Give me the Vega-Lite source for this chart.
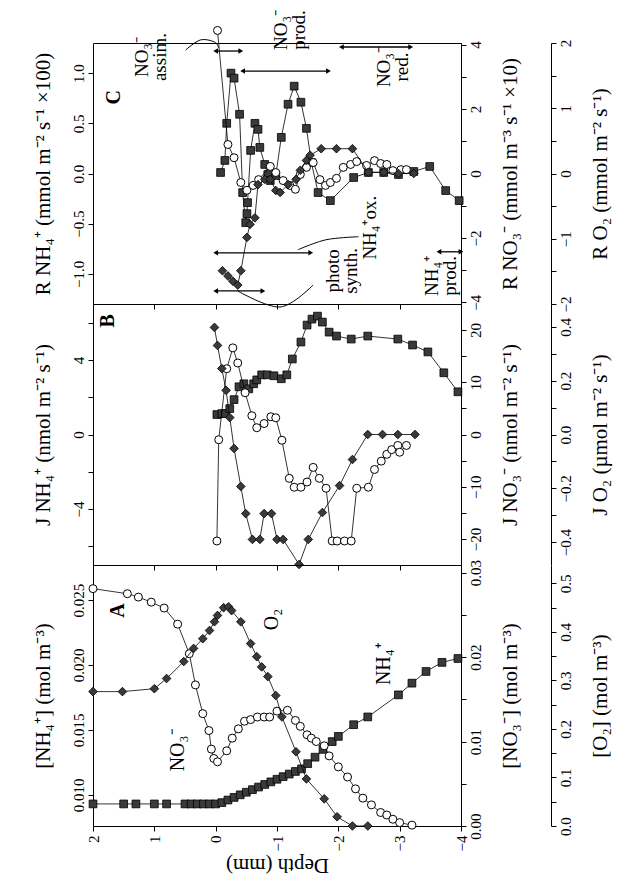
{
"$schema": "https://vega.github.io/schema/vega-lite/v6.json",
"background": "white",
"padding": {"left": 31, "top": 9, "right": 5, "bottom": 5},
"spacing": 0,
"bounds": "flush",
"config": {
  "font": "Liberation Serif",
  "view": {"stroke": "black", "strokeWidth": 1},
  "axis": {"domainColor": "black", "tickColor": "black", "labelColor": "black", "titleColor": "black", "labelFont": "Liberation Serif", "titleFont": "Liberation Serif", "labelFontSize": 15, "titleFontSize": 21, "titleFontWeight": "normal", "grid": false, "tickSize": 5},
  "text": {"font": "Liberation Serif"}
},
"datasets": {
  "A": [
    {"depth":2.0,"s":"sq","v":0.0093},{"depth":1.5,"s":"sq","v":0.0093},{"depth":1.3,"s":"sq","v":0.0093},{"depth":1.0,"s":"sq","v":0.0093},{"depth":0.8,"s":"sq","v":0.0093},{"depth":0.5,"s":"sq","v":0.0093},{"depth":0.4,"s":"sq","v":0.0093},{"depth":0.3,"s":"sq","v":0.0093},{"depth":0.2,"s":"sq","v":0.0093},{"depth":0.1,"s":"sq","v":0.0093},{"depth":0.0,"s":"sq","v":0.0093},
    {"depth":-0.1,"s":"sq","v":0.0094},{"depth":-0.2,"s":"sq","v":0.0096},{"depth":-0.3,"s":"sq","v":0.0098},{"depth":-0.4,"s":"sq","v":0.0100},{"depth":-0.5,"s":"sq","v":0.0102},{"depth":-0.6,"s":"sq","v":0.0104},{"depth":-0.7,"s":"sq","v":0.0106},{"depth":-0.8,"s":"sq","v":0.0108},{"depth":-0.9,"s":"sq","v":0.0110},{"depth":-1.0,"s":"sq","v":0.0112},{"depth":-1.1,"s":"sq","v":0.0114},{"depth":-1.2,"s":"sq","v":0.0116},{"depth":-1.3,"s":"sq","v":0.0118},{"depth":-1.4,"s":"sq","v":0.0120},{"depth":-1.5,"s":"sq","v":0.0124},{"depth":-1.62,"s":"sq","v":0.0129},{"depth":-1.75,"s":"sq","v":0.0135},{"depth":-1.9,"s":"sq","v":0.0141},{"depth":-2.0,"s":"sq","v":0.0145},{"depth":-2.25,"s":"sq","v":0.0154},{"depth":-2.48,"s":"sq","v":0.0160},{"depth":-2.98,"s":"sq","v":0.0177},{"depth":-3.2,"s":"sq","v":0.0186},{"depth":-3.43,"s":"sq","v":0.0195},{"depth":-3.69,"s":"sq","v":0.0202},{"depth":-3.95,"s":"sq","v":0.0205},
    {"depth":2.0,"s":"ci","v":0.0281},{"depth":1.44,"s":"ci","v":0.0275},{"depth":1.26,"s":"ci","v":0.0271},{"depth":1.05,"s":"ci","v":0.0265},{"depth":0.84,"s":"ci","v":0.0258},{"depth":0.62,"s":"ci","v":0.0239},{"depth":0.43,"s":"ci","v":0.0204},{"depth":0.33,"s":"ci","v":0.0167},{"depth":0.21,"s":"ci","v":0.0133},{"depth":0.11,"s":"ci","v":0.0113},{"depth":0.07,"s":"ci","v":0.0091},{"depth":0.03,"s":"ci","v":0.0080},{"depth":-0.03,"s":"ci","v":0.0076},{"depth":-0.18,"s":"ci","v":0.0089},{"depth":-0.27,"s":"ci","v":0.0104},{"depth":-0.37,"s":"ci","v":0.0115},{"depth":-0.47,"s":"ci","v":0.0124},{"depth":-0.57,"s":"ci","v":0.0126},{"depth":-0.68,"s":"ci","v":0.0129},{"depth":-0.79,"s":"ci","v":0.0129},{"depth":-0.88,"s":"ci","v":0.0129},{"depth":-1.0,"s":"ci","v":0.0136},{"depth":-1.17,"s":"ci","v":0.0137},{"depth":-1.3,"s":"ci","v":0.0125},{"depth":-1.38,"s":"ci","v":0.0118},{"depth":-1.49,"s":"ci","v":0.0108},{"depth":-1.56,"s":"ci","v":0.0104},{"depth":-1.64,"s":"ci","v":0.0100},{"depth":-1.77,"s":"ci","v":0.0095},{"depth":-1.85,"s":"ci","v":0.0083},{"depth":-2.0,"s":"ci","v":0.0070},{"depth":-2.15,"s":"ci","v":0.0058},{"depth":-2.28,"s":"ci","v":0.0044},{"depth":-2.4,"s":"ci","v":0.0033},{"depth":-2.54,"s":"ci","v":0.0025},{"depth":-2.69,"s":"ci","v":0.0016},{"depth":-2.79,"s":"ci","v":0.0013},{"depth":-2.89,"s":"ci","v":0.0008},{"depth":-3.0,"s":"ci","v":0.0004},{"depth":-3.2,"s":"ci","v":0.0001},
    {"depth":2.0,"s":"di","v":0.277},{"depth":1.52,"s":"di","v":0.277},{"depth":1.0,"s":"di","v":0.283},{"depth":0.8,"s":"di","v":0.304},{"depth":0.52,"s":"di","v":0.339},{"depth":0.36,"s":"di","v":0.366},{"depth":0.21,"s":"di","v":0.386},{"depth":0.1,"s":"di","v":0.403},{"depth":0.02,"s":"di","v":0.421},{"depth":-0.03,"s":"di","v":0.434},{"depth":-0.13,"s":"di","v":0.45},{"depth":-0.21,"s":"di","v":0.452},{"depth":-0.26,"s":"di","v":0.444},{"depth":-0.41,"s":"di","v":0.421},{"depth":-0.57,"s":"di","v":0.376},{"depth":-0.67,"s":"di","v":0.349},{"depth":-0.75,"s":"di","v":0.328},{"depth":-0.85,"s":"di","v":0.308},{"depth":-0.98,"s":"di","v":0.269},{"depth":-1.08,"s":"di","v":0.225},{"depth":-1.31,"s":"di","v":0.153},{"depth":-1.48,"s":"di","v":0.097},{"depth":-1.77,"s":"di","v":0.056},{"depth":-1.98,"s":"di","v":0.019},{"depth":-2.23,"s":"di","v":0.0},{"depth":-2.48,"s":"di","v":0.0}
  ],
  "B": [
    {"depth":-0.02,"s":"sq","v":1.07},{"depth":-0.1,"s":"sq","v":1.12},{"depth":-0.16,"s":"sq","v":1.12},{"depth":-0.23,"s":"sq","v":1.39},{"depth":-0.3,"s":"sq","v":1.87},{"depth":-0.38,"s":"sq","v":2.56},{"depth":-0.46,"s":"sq","v":2.72},{"depth":-0.54,"s":"sq","v":2.45},{"depth":-0.62,"s":"sq","v":2.72},{"depth":-0.67,"s":"sq","v":2.93},{"depth":-0.75,"s":"sq","v":3.2},{"depth":-0.84,"s":"sq","v":3.2},{"depth":-0.95,"s":"sq","v":3.15},{"depth":-1.07,"s":"sq","v":2.99},{"depth":-1.16,"s":"sq","v":3.2},{"depth":-1.25,"s":"sq","v":4.05},{"depth":-1.39,"s":"sq","v":4.96},{"depth":-1.49,"s":"sq","v":5.87},{"depth":-1.57,"s":"sq","v":6.19},{"depth":-1.66,"s":"sq","v":6.35},{"depth":-1.74,"s":"sq","v":6.03},{"depth":-1.85,"s":"sq","v":5.49},{"depth":-1.97,"s":"sq","v":5.28},{"depth":-2.21,"s":"sq","v":5.12},{"depth":-2.48,"s":"sq","v":5.28},{"depth":-2.97,"s":"sq","v":5.12},{"depth":-3.21,"s":"sq","v":4.8},{"depth":-3.46,"s":"sq","v":4.43},{"depth":-3.72,"s":"sq","v":3.31},{"depth":-3.95,"s":"sq","v":2.29},
    {"depth":-0.02,"s":"ci","v":-20.4},{"depth":-0.05,"s":"ci","v":-1.0},{"depth":-0.18,"s":"ci","v":12.6},{"depth":-0.28,"s":"ci","v":16.6},{"depth":-0.36,"s":"ci","v":13.7},{"depth":-0.48,"s":"ci","v":8.0},{"depth":-0.59,"s":"ci","v":3.6},{"depth":-0.67,"s":"ci","v":1.3},{"depth":-0.79,"s":"ci","v":2.1},{"depth":-0.9,"s":"ci","v":3.4},{"depth":-0.98,"s":"ci","v":3.2},{"depth":-1.08,"s":"ci","v":-1.1},{"depth":-1.2,"s":"ci","v":-8.4},{"depth":-1.28,"s":"ci","v":-10.1},{"depth":-1.39,"s":"ci","v":-10.1},{"depth":-1.49,"s":"ci","v":-9.1},{"depth":-1.59,"s":"ci","v":-6.3},{"depth":-1.69,"s":"ci","v":-8.4},{"depth":-1.8,"s":"ci","v":-10.3},{"depth":-1.9,"s":"ci","v":-20.4},{"depth":-1.98,"s":"ci","v":-20.4},{"depth":-2.1,"s":"ci","v":-20.4},{"depth":-2.21,"s":"ci","v":-20.4},{"depth":-2.3,"s":"ci","v":-10.3},{"depth":-2.49,"s":"ci","v":-10.1},{"depth":-2.59,"s":"ci","v":-6.7},{"depth":-2.7,"s":"ci","v":-5.1},{"depth":-2.79,"s":"ci","v":-3.8},{"depth":-2.87,"s":"ci","v":-2.9},{"depth":-2.97,"s":"ci","v":-2.1},{"depth":-3.0,"s":"ci","v":-3.4},{"depth":-3.11,"s":"ci","v":-2.1},
    {"depth":0.02,"s":"di","v":0.398},{"depth":-0.03,"s":"di","v":0.331},{"depth":-0.1,"s":"di","v":0.245},{"depth":-0.17,"s":"di","v":0.164},{"depth":-0.23,"s":"di","v":0.063},{"depth":-0.3,"s":"di","v":-0.052},{"depth":-0.41,"s":"di","v":-0.193},{"depth":-0.49,"s":"di","v":-0.294},{"depth":-0.6,"s":"di","v":-0.39},{"depth":-0.72,"s":"di","v":-0.39},{"depth":-0.79,"s":"di","v":-0.294},{"depth":-0.91,"s":"di","v":-0.294},{"depth":-1.0,"s":"di","v":-0.39},{"depth":-1.1,"s":"di","v":-0.39},{"depth":-1.36,"s":"di","v":-0.483},{"depth":-1.51,"s":"di","v":-0.39},{"depth":-1.74,"s":"di","v":-0.29},{"depth":-2.02,"s":"di","v":-0.19},{"depth":-2.23,"s":"di","v":-0.093},{"depth":-2.48,"s":"di","v":0.0},{"depth":-2.72,"s":"di","v":0.0},{"depth":-2.97,"s":"di","v":0.0},{"depth":-3.25,"s":"di","v":0.0}
  ],
  "C": [
    {"depth":-0.08,"s":"sq","v":0.01},{"depth":-0.15,"s":"sq","v":0.13},{"depth":-0.18,"s":"sq","v":0.5},{"depth":-0.25,"s":"sq","v":1.0},{"depth":-0.3,"s":"sq","v":0.95},{"depth":-0.39,"s":"sq","v":0.59},{"depth":-0.44,"s":"sq","v":-0.19},{"depth":-0.49,"s":"sq","v":-0.49},{"depth":-0.51,"s":"sq","v":-0.4},{"depth":-0.52,"s":"sq","v":-0.29},{"depth":-0.57,"s":"sq","v":0.23},{"depth":-0.64,"s":"sq","v":0.5},{"depth":-0.69,"s":"sq","v":0.44},{"depth":-0.72,"s":"sq","v":0.26},{"depth":-0.8,"s":"sq","v":0.09},{"depth":-0.85,"s":"sq","v":-0.01},{"depth":-0.89,"s":"sq","v":-0.07},{"depth":-0.98,"s":"sq","v":-0.02},{"depth":-1.07,"s":"sq","v":0.36},{"depth":-1.18,"s":"sq","v":0.69},{"depth":-1.28,"s":"sq","v":0.87},{"depth":-1.39,"s":"sq","v":0.71},{"depth":-1.48,"s":"sq","v":0.45},{"depth":-1.56,"s":"sq","v":0.11},{"depth":-1.67,"s":"sq","v":-0.19},{"depth":-1.87,"s":"sq","v":-0.27},{"depth":-2.25,"s":"sq","v":-0.04},{"depth":-2.49,"s":"sq","v":0.01},{"depth":-2.74,"s":"sq","v":0.01},{"depth":-2.98,"s":"sq","v":-0.01},{"depth":-3.23,"s":"sq","v":0.02},{"depth":-3.49,"s":"sq","v":0.07},{"depth":-3.75,"s":"sq","v":-0.17},{"depth":-3.97,"s":"sq","v":-0.27},
    {"depth":-0.03,"s":"ci","v":4.44},{"depth":-0.2,"s":"ci","v":0.9},{"depth":-0.3,"s":"ci","v":0.49},{"depth":-0.41,"s":"ci","v":-0.28},{"depth":-0.51,"s":"ci","v":-0.52},{"depth":-0.61,"s":"ci","v":-0.37},{"depth":-0.7,"s":"ci","v":-0.19},{"depth":-0.89,"s":"ci","v":0.22},{"depth":-0.98,"s":"ci","v":0.03},{"depth":-1.1,"s":"ci","v":-0.22},{"depth":-1.21,"s":"ci","v":-0.37},{"depth":-1.3,"s":"ci","v":-0.49},{"depth":-1.38,"s":"ci","v":-0.03},{"depth":-1.48,"s":"ci","v":0.19},{"depth":-1.59,"s":"ci","v":0.34},{"depth":-1.7,"s":"ci","v":-0.19},{"depth":-1.79,"s":"ci","v":-0.37},{"depth":-1.87,"s":"ci","v":-0.28},{"depth":-1.97,"s":"ci","v":-0.15},{"depth":-2.08,"s":"ci","v":0.19},{"depth":-2.2,"s":"ci","v":0.28},{"depth":-2.3,"s":"ci","v":0.37},{"depth":-2.46,"s":"ci","v":0.25},{"depth":-2.59,"s":"ci","v":0.4},{"depth":-2.69,"s":"ci","v":0.31},{"depth":-2.79,"s":"ci","v":0.28},{"depth":-2.89,"s":"ci","v":0.09},{"depth":-3.02,"s":"ci","v":0.12},{"depth":-3.11,"s":"ci","v":0.12},
    {"depth":-0.11,"s":"di","v":-1.49},{"depth":-0.2,"s":"di","v":-1.57},{"depth":-0.28,"s":"di","v":-1.65},{"depth":-0.36,"s":"di","v":-1.71},{"depth":-0.41,"s":"di","v":-1.49},{"depth":-0.51,"s":"di","v":-0.98},{"depth":-0.56,"s":"di","v":-0.78},{"depth":-0.64,"s":"di","v":-0.68},{"depth":-0.69,"s":"di","v":-0.17},{"depth":-0.8,"s":"di","v":-0.09},{"depth":-0.89,"s":"di","v":-0.09},{"depth":-0.98,"s":"di","v":-0.26},{"depth":-1.05,"s":"di","v":-0.29},{"depth":-1.18,"s":"di","v":-0.17},{"depth":-1.31,"s":"di","v":-0.09},{"depth":-1.38,"s":"di","v":0.05},{"depth":-1.48,"s":"di","v":0.2},{"depth":-1.54,"s":"di","v":0.28},{"depth":-1.72,"s":"di","v":0.38},{"depth":-1.97,"s":"di","v":0.38},{"depth":-2.23,"s":"di","v":0.38},{"depth":-2.49,"s":"di","v":0.02},{"depth":-2.74,"s":"di","v":0.02},{"depth":-2.98,"s":"di","v":0.0},{"depth":-3.23,"s":"di","v":0.0}
  ],
  "notesC": [
    {"t":"NO₃⁻\nassim.","depth":1.2,"v":1.16},
    {"t":"NO₃⁻\nprod.","depth":-1.07,"v":1.43},
    {"t":"NO₃⁻\nred.","depth":-2.74,"v":1.06},
    {"t":"photo\nsynth.","depth":-1.92,"v":-0.97},
    {"t":"NH₄⁺ox.","depth":-2.52,"v":-0.54},
    {"t":"NH₄⁺\nprod.","depth":-3.52,"v":-1.02}
  ],
  "notesA": [
    {"t":"O₂","depth":-0.92,"v":0.0235},
    {"t":"NO₃⁻","depth":0.62,"v":0.01346},
    {"t":"NH₄⁺","depth":-2.74,"v":0.0201}
  ],
  "letters": [
    {"p":"A","t":"A","depth":1.6,"v":0.0242},
    {"p":"B","t":"B","depth":1.75,"v":6.1},
    {"p":"C","t":"C","depth":1.66,"v":0.76}
  ],
  "arrows": [
    {"d1":0,"d2":-0.41,"v":1.22},
    {"d1":-0.44,"d2":-1.84,"v":1.02},
    {"d1":-2.05,"d2":-3.18,"v":1.26},
    {"d1":0,"d2":-1.55,"v":-0.79},
    {"d1":0,"d2":-0.77,"v":-1.17},
    {"d1":-3.64,"d2":-4.0,"v":-0.78}
  ],
  "curves": [
    {"c":1,"i":1,"depth":0.49,"v":1.23},{"c":1,"i":2,"depth":0.25,"v":1.33},{"c":1,"i":3,"depth":0.02,"v":1.31},{"c":1,"i":4,"depth":-0.05,"v":1.25},
    {"c":2,"i":1,"depth":-1.34,"v":-0.76},{"c":2,"i":2,"depth":-1.8,"v":-0.66},{"c":2,"i":3,"depth":-2.33,"v":-0.63},
    {"c":3,"i":1,"depth":-0.36,"v":-1.17},{"c":3,"i":2,"depth":-1.05,"v":-1.33},{"c":3,"i":3,"depth":-1.59,"v":-1.11}
  ]
},
"vconcat": [
  {
    "width": 368, "height": 261,
    "resolve": {"scale": {"y": "independent"}, "axis": {"y": "independent"}},
    "layer": [
      {
        "layer": [
          {"mark": {"type": "rule", "color": "black", "strokeWidth": 1}, "encoding": {"x": {"datum": 0, "type": "quantitative", "scale": {"domain": [-4, 2], "reverse": true, "nice": false, "zero": false}}}},
          {"mark": {"type": "rule", "color": "black", "strokeWidth": 1}, "encoding": {"y": {"datum": 0, "type": "quantitative", "scale": {"domain": [-1.3, 1.3], "nice": false, "zero": false}}}},
          {"data": {"name": "C"}, "transform": [{"filter": "datum.s == 'sq'"}], "mark": {"type": "line", "color": "black", "strokeWidth": 0.8},
           "encoding": {"x": {"field": "depth", "type": "quantitative", "scale": {"domain": [-4, 2], "reverse": true, "nice": false, "zero": false}, "axis": {"values": [-4,-3.5,-3,-2.5,-2,-1.5,-1,-0.5,0,0.5,1,1.5,2], "labels": false, "title": null, "domain": false}},
                        "y": {"field": "v", "type": "quantitative", "scale": {"domain": [-1.3, 1.3], "nice": false, "zero": false}, "axis": {"orient": "left", "values": [-1,-0.5,0,0.5,1], "format": ".1f", "labelAngle": 270, "labelAlign": "center", "labelBaseline": "bottom", "title": "R NH₄⁺ (mmol m⁻² s⁻¹ ×100)", "titlePadding": 18, "domain": false}}}},
          {"data": {"name": "C"}, "transform": [{"filter": "datum.s == 'sq'"}], "mark": {"type": "point", "shape": "square", "filled": true, "fill": "#3a3a3a", "stroke": "black", "strokeWidth": 0.8, "size": 60, "opacity": 1},
           "encoding": {"x": {"field": "depth", "type": "quantitative", "scale": {"domain": [-4, 2], "reverse": true, "nice": false, "zero": false}},
                        "y": {"field": "v", "type": "quantitative", "scale": {"domain": [-1.3, 1.3], "nice": false, "zero": false}}}},
          {"data": {"name": "arrows"}, "mark": {"type": "rule", "color": "black", "strokeWidth": 1.3},
           "encoding": {"x": {"field": "d1", "type": "quantitative", "scale": {"domain": [-4, 2], "reverse": true, "nice": false, "zero": false}}, "x2": {"field": "d2"},
                        "y": {"field": "v", "type": "quantitative", "scale": {"domain": [-1.3, 1.3], "nice": false, "zero": false}}}},
          {"data": {"name": "arrows"}, "mark": {"type": "point", "shape": "triangle-left", "filled": true, "color": "black", "size": 30, "opacity": 1},
           "encoding": {"x": {"field": "d1", "type": "quantitative", "scale": {"domain": [-4, 2], "reverse": true, "nice": false, "zero": false}},
                        "y": {"field": "v", "type": "quantitative", "scale": {"domain": [-1.3, 1.3], "nice": false, "zero": false}}}},
          {"data": {"name": "arrows"}, "mark": {"type": "point", "shape": "triangle-right", "filled": true, "color": "black", "size": 30, "opacity": 1},
           "encoding": {"x": {"field": "d2", "type": "quantitative", "scale": {"domain": [-4, 2], "reverse": true, "nice": false, "zero": false}},
                        "y": {"field": "v", "type": "quantitative", "scale": {"domain": [-1.3, 1.3], "nice": false, "zero": false}}}},
          {"data": {"name": "curves"}, "mark": {"type": "line", "color": "black", "strokeWidth": 1, "interpolate": "cardinal"},
           "encoding": {"x": {"field": "depth", "type": "quantitative", "scale": {"domain": [-4, 2], "reverse": true, "nice": false, "zero": false}},
                        "y": {"field": "v", "type": "quantitative", "scale": {"domain": [-1.3, 1.3], "nice": false, "zero": false}},
                        "detail": {"field": "c", "type": "nominal"}, "order": {"field": "i", "type": "quantitative"}}},
          {"data": {"name": "notesC"}, "mark": {"type": "text", "angle": 270, "fontSize": 19, "lineBreak": "\n", "align": "center", "baseline": "middle", "color": "black", "lineHeight": 18},
           "encoding": {"x": {"field": "depth", "type": "quantitative", "scale": {"domain": [-4, 2], "reverse": true, "nice": false, "zero": false}},
                        "y": {"field": "v", "type": "quantitative", "scale": {"domain": [-1.3, 1.3], "nice": false, "zero": false}},
                        "text": {"field": "t"}}},
          {"data": {"name": "letters"}, "transform": [{"filter": "datum.p == 'C'"}], "mark": {"type": "text", "angle": 270, "fontSize": 20, "fontWeight": "bold", "align": "center", "baseline": "middle", "color": "black"},
           "encoding": {"x": {"field": "depth", "type": "quantitative", "scale": {"domain": [-4, 2], "reverse": true, "nice": false, "zero": false}},
                        "y": {"field": "v", "type": "quantitative", "scale": {"domain": [-1.3, 1.3], "nice": false, "zero": false}},
                        "text": {"field": "t"}}}
        ]
      },
      {
        "data": {"name": "C"}, "transform": [{"filter": "datum.s == 'ci'"}],
        "encoding": {"x": {"field": "depth", "type": "quantitative", "scale": {"domain": [-4, 2], "reverse": true, "nice": false, "zero": false}},
                     "y": {"field": "v", "type": "quantitative", "scale": {"domain": [-4.05, 4.05], "nice": false, "zero": false}, "axis": {"orient": "right", "values": [-4,-3,-2,-1,0,1,2,3,4], "labelExpr": "datum.value % 2 == 0 ? format(datum.value, 'd') : ''", "labelAngle": 270, "labelAlign": "center", "labelBaseline": "top", "title": "R NO₃⁻ (mmol m⁻³ s⁻¹ ×10)", "titleAngle": 270, "titleBaseline": "top", "titlePadding": 16}}},
        "layer": [
          {"mark": {"type": "line", "color": "black", "strokeWidth": 0.8}},
          {"mark": {"type": "point", "shape": "circle", "filled": true, "fill": "white", "stroke": "black", "strokeWidth": 1, "size": 64, "opacity": 1}}
        ]
      },
      {
        "data": {"name": "C"}, "transform": [{"filter": "datum.s == 'di'"}],
        "encoding": {"x": {"field": "depth", "type": "quantitative", "scale": {"domain": [-4, 2], "reverse": true, "nice": false, "zero": false}},
                     "y": {"field": "v", "type": "quantitative", "scale": {"domain": [-2, 2], "nice": false, "zero": false}, "axis": {"orient": "right", "offset": 90, "values": [-2,-1.5,-1,-0.5,0,0.5,1,1.5,2], "labelExpr": "datum.value % 1 == 0 ? format(datum.value, 'd') : ''", "labelAngle": 270, "labelAlign": "center", "labelBaseline": "top", "title": "R O₂ (mmol m⁻² s⁻¹)", "titleAngle": 270, "titleBaseline": "top", "titlePadding": 16}}},
        "layer": [
          {"mark": {"type": "line", "color": "black", "strokeWidth": 0.8}},
          {"mark": {"type": "point", "shape": "diamond", "filled": true, "fill": "#3a3a3a", "stroke": "black", "strokeWidth": 0.8, "size": 75, "opacity": 1}}
        ]
      }
    ]
  },
  {
    "width": 368, "height": 261,
    "resolve": {"scale": {"y": "independent"}, "axis": {"y": "independent"}},
    "layer": [
      {
        "layer": [
          {"mark": {"type": "rule", "color": "black", "strokeWidth": 1}, "encoding": {"x": {"datum": 0, "type": "quantitative", "scale": {"domain": [-4, 2], "reverse": true, "nice": false, "zero": false}}}},
          {"mark": {"type": "rule", "color": "black", "strokeWidth": 1}, "encoding": {"y": {"datum": 0, "type": "quantitative", "scale": {"domain": [-7, 7], "nice": false, "zero": false}}}},
          {"data": {"name": "B"}, "transform": [{"filter": "datum.s == 'sq'"}], "mark": {"type": "line", "color": "black", "strokeWidth": 0.8},
           "encoding": {"x": {"field": "depth", "type": "quantitative", "scale": {"domain": [-4, 2], "reverse": true, "nice": false, "zero": false}, "axis": {"values": [-4,-3.5,-3,-2.5,-2,-1.5,-1,-0.5,0,0.5,1,1.5,2], "labels": false, "title": null, "domain": false}},
                        "y": {"field": "v", "type": "quantitative", "scale": {"domain": [-7, 7], "nice": false, "zero": false}, "axis": {"orient": "left", "values": [-6,-4,-2,0,2,4,6], "labelExpr": "datum.value % 4 == 0 ? format(datum.value, 'd') : ''", "labelAngle": 270, "labelAlign": "center", "labelBaseline": "bottom", "title": "J NH₄⁺ (nmol m⁻² s⁻¹)", "titlePadding": 18, "domain": false}}}},
          {"data": {"name": "B"}, "transform": [{"filter": "datum.s == 'sq'"}], "mark": {"type": "point", "shape": "square", "filled": true, "fill": "#3a3a3a", "stroke": "black", "strokeWidth": 0.8, "size": 60, "opacity": 1},
           "encoding": {"x": {"field": "depth", "type": "quantitative", "scale": {"domain": [-4, 2], "reverse": true, "nice": false, "zero": false}},
                        "y": {"field": "v", "type": "quantitative", "scale": {"domain": [-7, 7], "nice": false, "zero": false}}}},
          {"data": {"name": "letters"}, "transform": [{"filter": "datum.p == 'B'"}], "mark": {"type": "text", "angle": 270, "fontSize": 20, "fontWeight": "bold", "align": "center", "baseline": "middle", "color": "black"},
           "encoding": {"x": {"field": "depth", "type": "quantitative", "scale": {"domain": [-4, 2], "reverse": true, "nice": false, "zero": false}},
                        "y": {"field": "v", "type": "quantitative", "scale": {"domain": [-7, 7], "nice": false, "zero": false}},
                        "text": {"field": "t"}}}
        ]
      },
      {
        "data": {"name": "B"}, "transform": [{"filter": "datum.s == 'ci'"}],
        "encoding": {"x": {"field": "depth", "type": "quantitative", "scale": {"domain": [-4, 2], "reverse": true, "nice": false, "zero": false}},
                     "y": {"field": "v", "type": "quantitative", "scale": {"domain": [-25, 25], "nice": false, "zero": false}, "axis": {"orient": "right", "values": [-20,-15,-10,-5,0,5,10,15,20], "labelExpr": "datum.value % 10 == 0 ? format(datum.value, 'd') : ''", "labelAngle": 270, "labelAlign": "center", "labelBaseline": "top", "title": "J NO₃⁻ (nmol m⁻² s⁻¹)", "titleAngle": 270, "titleBaseline": "top", "titlePadding": 16}}},
        "layer": [
          {"mark": {"type": "line", "color": "black", "strokeWidth": 0.8}},
          {"mark": {"type": "point", "shape": "circle", "filled": true, "fill": "white", "stroke": "black", "strokeWidth": 1, "size": 64, "opacity": 1}}
        ]
      },
      {
        "data": {"name": "B"}, "transform": [{"filter": "datum.s == 'di'"}],
        "encoding": {"x": {"field": "depth", "type": "quantitative", "scale": {"domain": [-4, 2], "reverse": true, "nice": false, "zero": false}},
                     "y": {"field": "v", "type": "quantitative", "scale": {"domain": [-0.485, 0.485], "nice": false, "zero": false}, "axis": {"orient": "right", "offset": 90, "values": [-0.4,-0.3,-0.2,-0.1,0,0.1,0.2,0.3,0.4], "labelExpr": "indexof([-0.4,-0.2,0,0.2,0.4], datum.value) >= 0 ? format(datum.value, '.1f') : ''", "labelAngle": 270, "labelAlign": "center", "labelBaseline": "top", "title": "J O₂ (µmol m⁻² s⁻¹)", "titleAngle": 270, "titleBaseline": "top", "titlePadding": 16}}},
        "layer": [
          {"mark": {"type": "line", "color": "black", "strokeWidth": 0.8}},
          {"mark": {"type": "point", "shape": "diamond", "filled": true, "fill": "#3a3a3a", "stroke": "black", "strokeWidth": 0.8, "size": 75, "opacity": 1}}
        ]
      }
    ]
  },
  {
    "width": 368, "height": 261,
    "resolve": {"scale": {"y": "independent"}, "axis": {"y": "independent"}},
    "layer": [
      {
        "layer": [
          {"mark": {"type": "rule", "color": "black", "strokeWidth": 1}, "encoding": {"x": {"datum": 0, "type": "quantitative", "scale": {"domain": [-4, 2], "reverse": true, "nice": false, "zero": false}}}},
          {"data": {"name": "A"}, "transform": [{"filter": "datum.s == 'sq'"}], "mark": {"type": "line", "color": "black", "strokeWidth": 0.8},
           "encoding": {"x": {"field": "depth", "type": "quantitative", "scale": {"domain": [-4, 2], "reverse": true, "nice": false, "zero": false}, "axis": {"values": [-4,-3.5,-3,-2.5,-2,-1.5,-1,-0.5,0,0.5,1,1.5,2], "labelExpr": "datum.value % 1 == 0 ? format(datum.value, 'd') : ''", "labelAngle": 270, "labelAlign": "right", "labelBaseline": "middle", "title": "Depth (mm)", "titleAngle": 180, "titleBaseline": "bottom", "labelPadding": 4, "titlePadding": 4, "domain": false}},
                        "y": {"field": "v", "type": "quantitative", "scale": {"domain": [0.0076, 0.0277], "nice": false, "zero": false}, "axis": {"orient": "left", "values": [0.01,0.0125,0.015,0.0175,0.02,0.0225,0.025,0.0275], "labelExpr": "indexof([0.01,0.015,0.02,0.025], datum.value) >= 0 ? format(datum.value, '.3f') : ''", "labelAngle": 270, "labelAlign": "center", "labelBaseline": "bottom", "title": "[NH₄⁺] (mol m⁻³)", "titlePadding": 18, "domain": false}}}},
          {"data": {"name": "A"}, "transform": [{"filter": "datum.s == 'sq'"}], "mark": {"type": "point", "shape": "square", "filled": true, "fill": "#3a3a3a", "stroke": "black", "strokeWidth": 0.8, "size": 60, "opacity": 1},
           "encoding": {"x": {"field": "depth", "type": "quantitative", "scale": {"domain": [-4, 2], "reverse": true, "nice": false, "zero": false}},
                        "y": {"field": "v", "type": "quantitative", "scale": {"domain": [0.0076, 0.0277], "nice": false, "zero": false}}}},
          {"data": {"name": "notesA"}, "mark": {"type": "text", "angle": 270, "fontSize": 20, "align": "center", "baseline": "middle", "color": "black"},
           "encoding": {"x": {"field": "depth", "type": "quantitative", "scale": {"domain": [-4, 2], "reverse": true, "nice": false, "zero": false}},
                        "y": {"field": "v", "type": "quantitative", "scale": {"domain": [0.0076, 0.0277], "nice": false, "zero": false}},
                        "text": {"field": "t"}}},
          {"data": {"name": "letters"}, "transform": [{"filter": "datum.p == 'A'"}], "mark": {"type": "text", "angle": 270, "fontSize": 20, "fontWeight": "bold", "align": "center", "baseline": "middle", "color": "black"},
           "encoding": {"x": {"field": "depth", "type": "quantitative", "scale": {"domain": [-4, 2], "reverse": true, "nice": false, "zero": false}},
                        "y": {"field": "v", "type": "quantitative", "scale": {"domain": [0.0076, 0.0277], "nice": false, "zero": false}},
                        "text": {"field": "t"}}}
        ]
      },
      {
        "data": {"name": "A"}, "transform": [{"filter": "datum.s == 'ci'"}],
        "encoding": {"x": {"field": "depth", "type": "quantitative", "scale": {"domain": [-4, 2], "reverse": true, "nice": false, "zero": false}},
                     "y": {"field": "v", "type": "quantitative", "scale": {"domain": [0, 0.0309], "nice": false, "zero": false}, "axis": {"orient": "right", "values": [0,0.005,0.01,0.015,0.02,0.025,0.03], "labelExpr": "indexof([0,0.01,0.02,0.03], datum.value) >= 0 ? format(datum.value, '.2f') : ''", "labelAngle": 270, "labelAlign": "center", "labelBaseline": "top", "title": "[NO₃⁻] (mol m⁻³)", "titleAngle": 270, "titleBaseline": "top", "titlePadding": 16}}},
        "layer": [
          {"mark": {"type": "line", "color": "black", "strokeWidth": 0.8}},
          {"mark": {"type": "point", "shape": "circle", "filled": true, "fill": "white", "stroke": "black", "strokeWidth": 1, "size": 64, "opacity": 1}}
        ]
      },
      {
        "data": {"name": "A"}, "transform": [{"filter": "datum.s == 'di'"}],
        "encoding": {"x": {"field": "depth", "type": "quantitative", "scale": {"domain": [-4, 2], "reverse": true, "nice": false, "zero": false}},
                     "y": {"field": "v", "type": "quantitative", "scale": {"domain": [0, 0.538], "nice": false, "zero": false}, "axis": {"orient": "right", "offset": 90, "values": [0,0.05,0.1,0.15,0.2,0.25,0.3,0.35,0.4,0.45,0.5], "labelExpr": "indexof([0,0.1,0.2,0.3,0.4,0.5], datum.value) >= 0 ? format(datum.value, '.1f') : ''", "labelAngle": 270, "labelAlign": "center", "labelBaseline": "top", "title": "[O₂] (mol m⁻³)", "titleAngle": 270, "titleBaseline": "top", "titlePadding": 16}}},
        "layer": [
          {"mark": {"type": "line", "color": "black", "strokeWidth": 0.8}},
          {"mark": {"type": "point", "shape": "diamond", "filled": true, "fill": "#3a3a3a", "stroke": "black", "strokeWidth": 0.8, "size": 75, "opacity": 1}}
        ]
      }
    ]
  }
]
}
